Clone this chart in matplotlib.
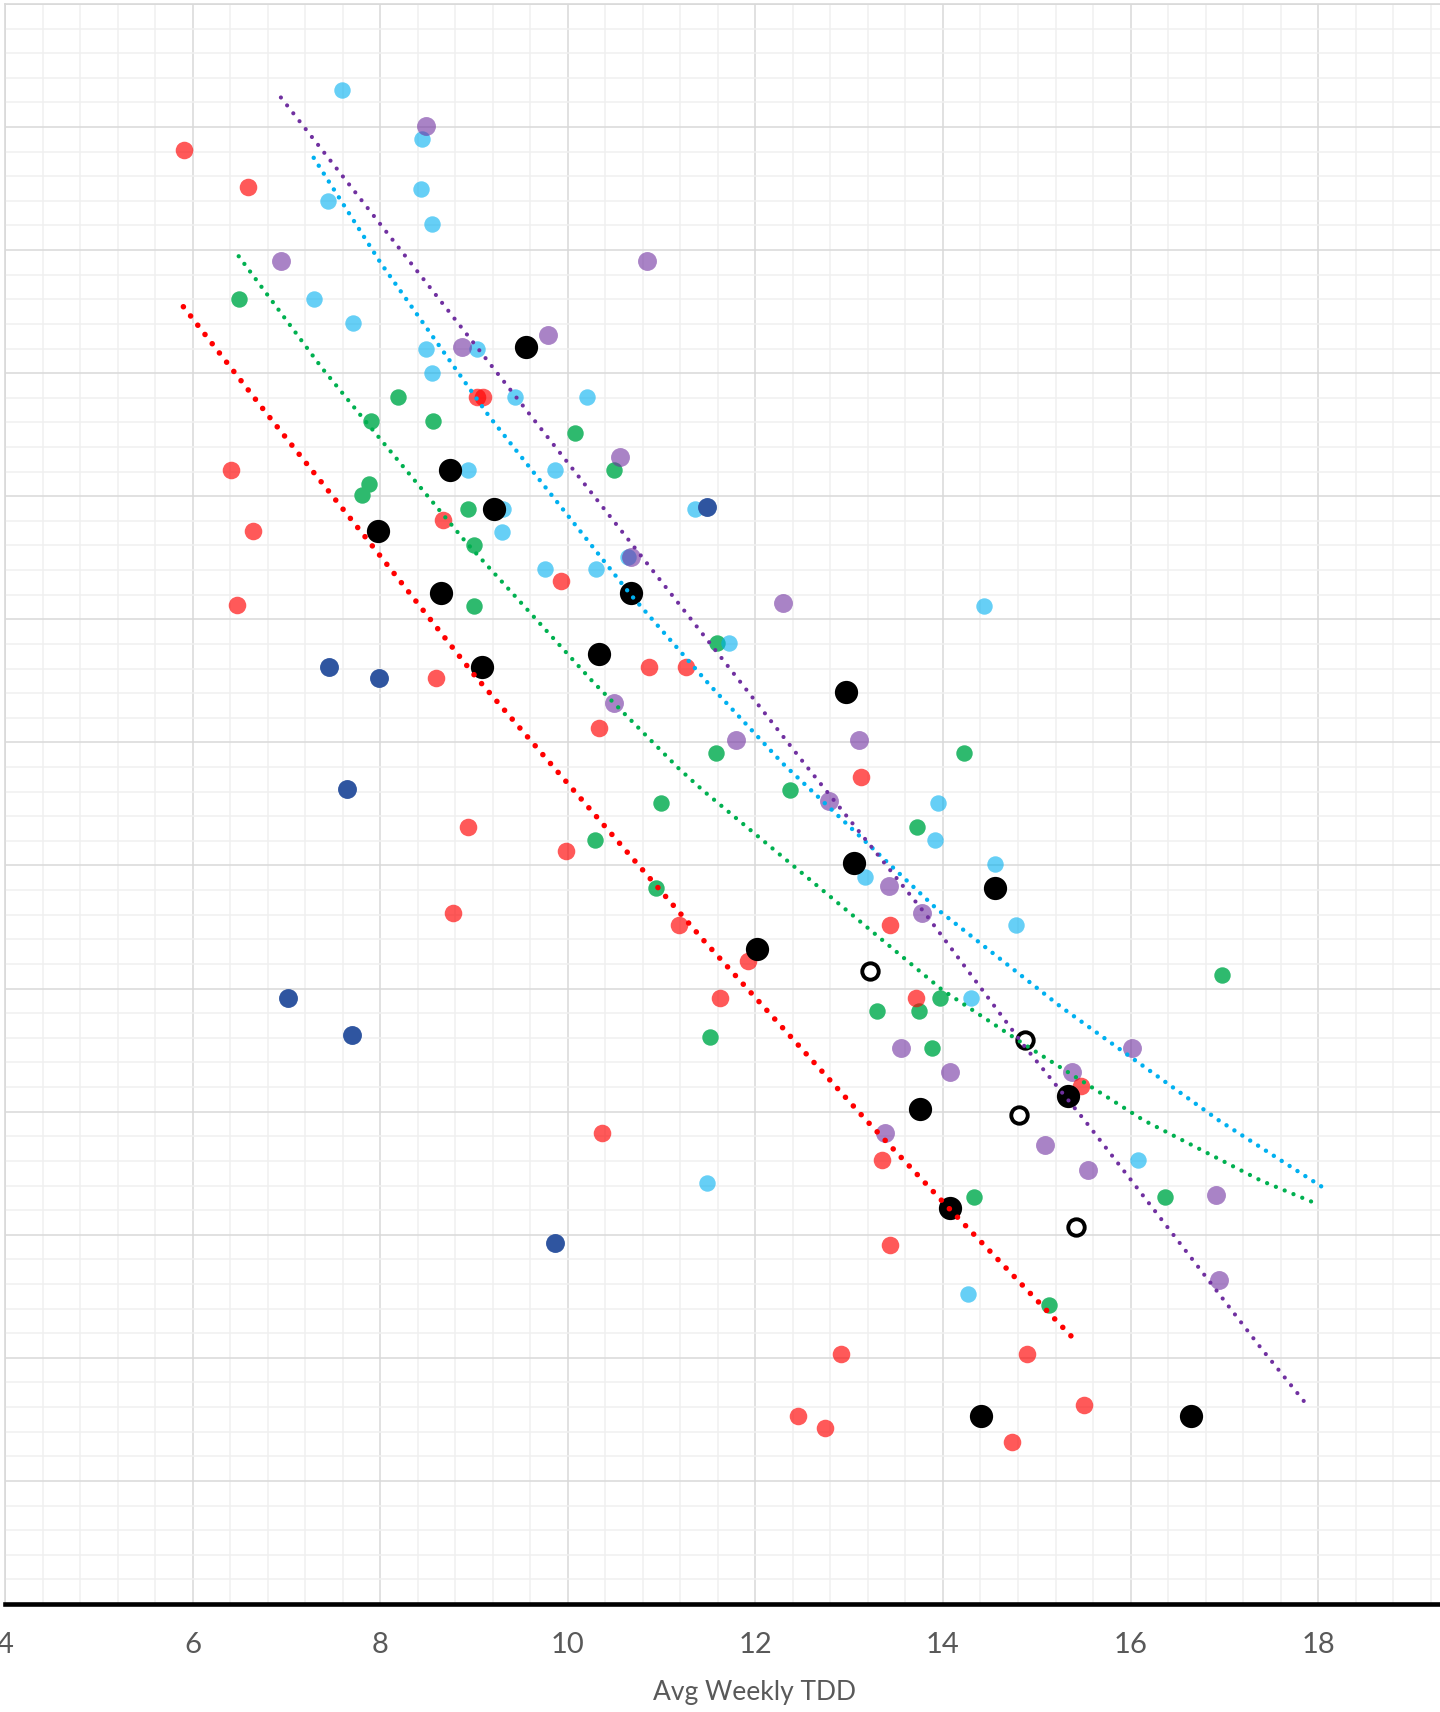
import matplotlib.pyplot as plt
from matplotlib.ticker import MultipleLocator, NullFormatter

# scatter groups (x = Avg Weekly TDD, y = value)
red_x = [5.91, 6.59, 6.41, 6.64, 6.47, 8.67, 9.03, 9.10, 8.59, 9.93, 10.87, 11.26, 10.33, 8.94, 9.98,
         8.77, 11.19, 11.92, 11.62, 13.13, 13.44, 13.71, 10.36, 13.35, 13.43, 15.47, 12.91, 14.90,
         12.45, 12.74, 15.50, 14.74]
red_y = [118.1, 115.1, 92.1, 87.2, 81.2, 88.1, 98.1, 98.1, 75.2, 83.1, 76.1, 76.1, 71.2, 63.1, 61.2,
         56.1, 55.2, 52.2, 49.2, 67.2, 55.2, 49.2, 38.3, 36.1, 29.2, 42.1, 20.3, 20.3,
         15.3, 14.3, 16.2, 13.2]

lblue_x = [7.59, 8.45, 7.44, 8.43, 8.55, 7.29, 7.71, 8.49, 9.03, 8.55, 9.44, 10.20, 8.93, 9.86, 9.31,
           9.30, 9.76, 10.30, 10.64, 11.36, 11.72, 14.44, 13.95, 13.92, 14.55, 13.17, 14.78, 14.30,
           16.08, 11.48, 14.27]
lblue_y = [123.0, 119.0, 114.0, 115.0, 112.1, 106.0, 104.1, 102.0, 102.0, 100.0, 98.1, 98.1, 92.1, 92.1, 89.0,
           87.1, 84.1, 84.1, 85.1, 89.0, 78.1, 81.1, 65.1, 62.1, 60.1, 59.1, 55.2, 49.2,
           36.1, 34.2, 25.2]

green_x = [6.49, 8.19, 7.90, 8.56, 10.08, 10.49, 7.88, 7.81, 8.94, 9.00, 9.00, 11.59, 11.58, 14.22,
           12.37, 10.99, 10.29, 13.72, 10.94, 13.97, 13.74, 13.30, 13.88, 11.52, 16.98, 14.33, 16.37, 15.13]
green_y = [106.0, 98.1, 96.1, 96.1, 95.1, 92.1, 91.0, 90.1, 89.0, 86.0, 81.1, 78.1, 69.1, 69.1,
           66.1, 65.1, 62.1, 63.1, 58.2, 49.2, 48.2, 48.2, 45.2, 46.1, 51.1, 33.1, 33.1, 24.3]

purple_x = [8.49, 6.94, 10.84, 9.79, 8.87, 10.56, 10.67, 12.29, 10.49, 11.79, 13.10, 12.79, 13.42, 13.78,
            13.55, 14.07, 15.38, 16.02, 13.38, 15.09, 15.55, 16.91, 16.94]
purple_y = [120.1, 109.1, 109.1, 103.1, 102.1, 93.2, 85.1, 81.3, 73.2, 70.2, 70.2, 65.2, 58.3, 56.1,
            45.2, 43.2, 43.2, 45.2, 38.3, 37.3, 35.3, 33.2, 26.3]

dblue_x = [11.48, 7.45, 7.99, 7.65, 7.02, 7.70, 9.86]
dblue_y = [89.1, 76.1, 75.2, 66.2, 49.2, 46.2, 29.3]

black_x = [9.55, 8.74, 9.21, 7.98, 8.65, 10.67, 9.08, 10.33, 12.97, 13.05, 14.56, 12.02, 13.76, 15.33,
           14.07, 14.41, 16.65]
black_y = [102.1, 92.1, 89.0, 87.2, 82.1, 82.1, 76.1, 77.2, 74.1, 60.2, 58.2, 53.2, 40.2, 41.3,
           32.2, 15.3, 15.3]

open_x = [13.22, 14.87, 14.81, 15.42]
open_y = [51.4, 45.8, 39.7, 30.6]

# trendlines
red_tx = [5.90, 6.79, 7.87, 9.01, 9.87, 11.45, 13.17, 14.07, 15.45]
red_ty = [105.4, 96.7, 86.4, 75.4, 67.8, 53.9, 39.4, 32.1, 21.1]
green_tx = [6.49, 7.38, 7.82, 8.91, 10.27, 11.18, 11.44, 13.99, 14.86, 16.14, 17.39, 17.99]
green_ty = [109.5, 100.4, 96.3, 86.3, 74.9, 67.9, 66.1, 49.9, 45.5, 39.3, 34.4, 32.5]
blue_tx = [7.29, 8.00, 9.16, 10.67, 11.52, 12.29, 13.93, 15.26, 16.94, 18.06]
blue_ty = [117.5, 109.0, 96.5, 82.0, 74.6, 68.3, 56.5, 48.5, 39.3, 33.8]
purple_tx = [6.94, 8.32, 9.64, 11.49, 12.52, 13.82, 14.86, 15.51, 16.03, 17.39, 17.91]
purple_ty = [122.4, 109.0, 96.2, 78.3, 68.3, 56.0, 45.4, 39.3, 34.2, 20.8, 15.9]

fig = plt.figure(figsize=(14.4, 17.12), dpi=100)
ax = fig.add_axes([0.0036, 0.0631, 0.9964, 0.9346])

ax.scatter(green_x, green_y, s=140, color="#2EBA6E", linewidths=0, zorder=3)
ax.scatter(lblue_x, lblue_y, s=140, color="#00B0F0", alpha=0.6, linewidths=0, zorder=3)
ax.scatter(purple_x, purple_y, s=185, color="#7030A0", alpha=0.6, linewidths=0, zorder=3)
ax.scatter(red_x, red_y, s=160, color="#FF0000", alpha=0.65, linewidths=0, zorder=3)
ax.scatter(dblue_x, dblue_y, s=185, color="#2F55A0", linewidths=0, zorder=3)
ax.scatter(black_x, black_y, s=280, color="black", linewidths=0, zorder=3)
ax.scatter(open_x, open_y, s=140, facecolors="white", edgecolors="black", linewidths=2.8, zorder=3)

ax.plot(red_tx, red_ty, color="#FF0000", lw=4.0, ls=(0, (0.01, 2.1)), dash_capstyle="round", zorder=4)
ax.plot(green_tx, green_ty, color="#00B050", lw=3.1, ls=(0, (0.01, 2.2)), dash_capstyle="round", zorder=4)
ax.plot(blue_tx, blue_ty, color="#00B0F0", lw=3.2, ls=(0, (0.01, 2.1)), dash_capstyle="round", zorder=4)
ax.plot(purple_tx, purple_ty, color="#7030A0", lw=3.0, ls=(0, (0.01, 2.4)), dash_capstyle="round", zorder=4)

ax.set_xlim(4, 19.3)
ax.set_ylim(0, 130)
ax.xaxis.set_major_locator(MultipleLocator(2))
ax.xaxis.set_minor_locator(MultipleLocator(0.4))
ax.yaxis.set_major_locator(MultipleLocator(10))
ax.yaxis.set_minor_locator(MultipleLocator(2))
ax.yaxis.set_major_formatter(NullFormatter())

ax.grid(which="major", color="#D9D9D9", lw=1.1, zorder=0)
ax.grid(which="minor", color="#F0F0F0", lw=1.1, zorder=0)
ax.set_axisbelow(True)

for side in ["top", "left"]:
    ax.spines[side].set_color("#D9D9D9")
    ax.spines[side].set_linewidth(1.2)
ax.spines["right"].set_visible(False)
ax.spines["bottom"].set_color("black")
ax.spines["bottom"].set_linewidth(3.3)

ax.tick_params(axis="both", which="both", length=0)
ax.tick_params(axis="x", labelsize=21, labelcolor="#595959", pad=20)
for lab in ax.get_xticklabels():
    lab.set_fontfamily("Lato")

fig.text(0.524, 0.0115, "Avg Weekly TDD", ha="center", va="center",
         fontsize=19, color="#595959", family="Lato")

fig.savefig("out.png", dpi=100)
